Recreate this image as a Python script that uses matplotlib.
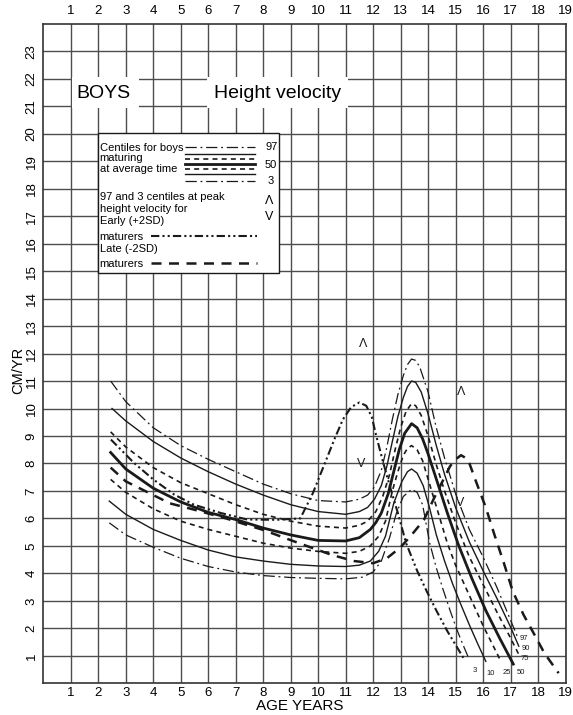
import matplotlib.pyplot as plt
from matplotlib.patches import Rectangle

plt.rcParams['font.family'] = ['Liberation Sans', 'DejaVu Sans']

age_ticks = list(range(1, 20))
vel_ticks = list(range(1, 24))

# centiles for boys maturing at average time (age in years, velocity in cm/yr)
c97_age = [2.45, 3, 4, 5, 6, 7, 8, 9, 10, 11, 11.5, 11.8, 12.05, 12.3, 12.5, 12.7, 12.9, 13.1, 13.25, 13.4,
           13.55, 13.7, 14.0, 14.3, 14.6, 15.0, 15.5, 16.0, 16.5, 17.0, 17.25]
c97_val = [11.0, 10.25, 9.3, 8.65, 8.15, 7.7, 7.25, 6.9, 6.65, 6.6, 6.7, 6.85, 7.15, 7.75, 8.6, 9.6, 10.5, 11.2, 11.6, 11.8,
           11.75, 11.5, 10.6, 9.3, 8.2, 6.9, 5.6, 4.6, 3.5, 2.3, 1.7]

c90_age = [2.5, 3, 4, 5, 6, 7, 8, 9, 10, 11, 11.5, 11.8, 12.05, 12.3, 12.5, 12.7, 12.9, 13.1, 13.25, 13.4,
           13.55, 13.75, 14.0, 14.3, 14.6, 15.0, 15.5, 16.0, 16.5, 17.0, 17.3]
c90_val = [10.0, 9.55, 8.8, 8.2, 7.7, 7.25, 6.85, 6.5, 6.25, 6.15, 6.25, 6.4, 6.7, 7.2, 7.9, 8.8, 9.7, 10.4, 10.8, 11.0,
           10.95, 10.6, 9.8, 8.65, 7.6, 6.4, 5.15, 4.1, 3.1, 2.05, 1.35]

c75_age = [2.45, 3, 4, 5, 6, 7, 8, 9, 10, 11, 11.5, 11.8, 12.1, 12.35, 12.6, 12.8, 13.0, 13.2, 13.4,
           13.55, 13.75, 14.0, 14.3, 14.6, 15.0, 15.5, 16.0, 16.5, 17.0, 17.3]
c75_val = [9.15, 8.6, 7.85, 7.3, 6.9, 6.5, 6.15, 5.9, 5.72, 5.65, 5.75, 5.9, 6.25, 6.8, 7.6, 8.5, 9.3, 9.9, 10.18,
           10.1, 9.75, 9.0, 7.95, 7.0, 5.85, 4.6, 3.6, 2.6, 1.65, 1.05]

c50_age = [2.45, 3, 4, 5, 6, 7, 8, 9, 10, 11, 11.5, 11.9, 12.1, 12.3, 12.55, 12.75, 12.95, 13.15, 13.4,
           13.6, 13.8, 14.0, 14.36, 14.7, 15.1, 15.6, 16.1, 16.6, 17.1]
c50_val = [8.4, 7.8, 7.1, 6.6, 6.22, 5.96, 5.65, 5.4, 5.2, 5.18, 5.3, 5.6, 5.85, 6.2, 6.9, 7.7, 8.5, 9.1, 9.45,
           9.3, 8.9, 8.35, 7.25, 6.2, 5.05, 3.8, 2.65, 1.65, 0.7]

c25_age = [2.45, 3, 4, 5, 6, 7, 8, 9, 10, 11, 11.5, 11.9, 12.2, 12.45, 12.7, 12.9, 13.1, 13.25, 13.4,
           13.6, 13.8, 14.1, 14.4, 14.7, 15.0, 15.5, 16.0, 16.3, 16.65]
c25_val = [7.42, 6.95, 6.35, 5.9, 5.6, 5.35, 5.1, 4.92, 4.8, 4.73, 4.8, 5.0, 5.35, 5.9, 7.0, 7.7, 8.3, 8.55, 8.65,
           8.5, 8.1, 7.1, 6.1, 5.1, 4.3, 3.2, 2.1, 1.5, 0.8]

c10_age = [2.4, 3, 4, 5, 6, 7, 8, 9, 10, 11, 11.5, 11.9, 12.2, 12.45, 12.75, 13.05, 13.25, 13.4,
           13.6, 13.82, 14.05, 14.3, 14.6, 14.9, 15.2, 15.5, 15.8, 16.1]
c10_val = [6.63, 6.15, 5.6, 5.2, 4.85, 4.6, 4.45, 4.33, 4.27, 4.25, 4.3, 4.45, 4.8, 5.35, 6.55, 7.35, 7.7, 7.8,
           7.65, 7.2, 6.4, 5.4, 4.45, 3.6, 2.85, 2.13, 1.45, 0.8]

c3_age = [2.4, 3, 4, 5, 6, 7, 8, 9, 10, 11, 11.6, 12.0, 12.3, 12.6, 12.85, 13.1, 13.4,
          13.6, 13.8, 14.06, 14.3, 14.55, 14.8, 15.03, 15.25, 15.5]
c3_val = [5.84, 5.4, 4.95, 4.55, 4.25, 4.05, 3.92, 3.85, 3.82, 3.8, 3.86, 4.05, 4.45, 5.3, 6.2, 6.8, 7.06,
          6.95, 6.5, 5.1, 4.2, 3.4, 2.65, 2.0, 1.45, 0.86]

# 50th centile for early (+2SD) and late (-2SD) maturers
early_age = [2.46, 3.3, 4.0, 4.76, 5.48, 6.45, 7.42, 8.5, 9.35, 9.8, 10.2, 10.6, 10.9, 11.2, 11.5, 11.75,
             11.95, 12.1, 12.35, 12.6, 12.9, 13.2, 13.6, 13.95, 14.3, 14.7, 15.3]
early_val = [8.87, 8.02, 7.42, 6.87, 6.5, 6.2, 5.96, 5.95, 6.0, 6.9, 7.9, 8.9, 9.6, 10.05, 10.22, 10.1,
             9.7, 9.06, 8.1, 7.2, 6.2, 5.1, 4.1, 3.35, 2.65, 1.9, 0.9]

late_age = [2.45, 3, 4, 4.6, 5.56, 6.65, 8.0, 9.3, 10.5, 11.3, 12.0, 12.5, 13.0, 13.4, 13.85, 14.2, 14.55,
            14.8, 15.0, 15.2, 15.45, 15.76, 16.1, 16.4, 16.75, 17.08, 17.47, 17.87, 18.23, 18.75]
late_val = [7.85, 7.35, 6.85, 6.55, 6.3, 6.0, 5.58, 5.1, 4.67, 4.45, 4.37, 4.55, 4.95, 5.4, 5.95, 6.7, 7.4,
            7.9, 8.15, 8.3, 8.15, 7.3, 6.4, 5.45, 4.4, 3.35, 2.5, 1.77, 1.1, 0.37]

# 97th / 3rd centile marks at peak velocity (age, velocity)
early_marks = [(11.62, 12.35, 'Λ'), (11.57, 7.97, 'V')]
late_marks = [(15.22, 10.6, 'Λ'), (15.16, 6.55, 'V')]

# end labels of the centile lines
end_labels = ['97', '90', '75', '50', '25', '10', '3']
end_label_x = [17.5, 17.57, 17.52, 17.38, 16.87, 16.26, 15.7]
end_label_y = [1.64, 1.28, 0.89, 0.41, 0.41, 0.37, 0.45]

ink = '#1a1a1a'
dashdot = (0, (9, 3, 1.5, 3))
dashed = (0, (3, 2.5))

fig = plt.figure(figsize=(5.73, 7.15), dpi=100)
ax = fig.add_axes([43.3 / 573, 1 - 683.3 / 715, (565.5 - 43.3) / 573, (683.3 - 23.8) / 715])
ax.set_xlim(0, 19)
ax.set_ylim(0, 24)
ax.set_axisbelow(True)
ax.grid(True, color='#4d4d4d', lw=1.0)
for s in ax.spines.values():
    s.set_color('#333333')
    s.set_linewidth(1.2)

ax.set_xticks(age_ticks)
ax.set_xticklabels([str(a) for a in age_ticks])
ax.tick_params(axis='x', length=0, labelsize=9.5, pad=3)
top = ax.secondary_xaxis('top')
top.set_xticks(age_ticks)
top.set_xticklabels([str(a) for a in age_ticks])
top.tick_params(length=0, labelsize=9.5, pad=5)
top.spines['top'].set_visible(False)

ax.set_yticks(vel_ticks)
ax.set_yticklabels([str(v) for v in vel_ticks], rotation=90, va='center')
ax.tick_params(axis='y', length=0, labelsize=9.5, pad=4)

fig.text(18 / 573, 1 - 370 / 715, 'CM/YR', rotation=90, ha='center', va='center', fontsize=10.5)
fig.text(300 / 573, 1 - 706 / 715, 'AGE YEARS', ha='center', va='center', fontsize=11)

# centile curves
ax.plot(c97_age, c97_val, color=ink, lw=0.9, ls=dashdot, zorder=3)
ax.plot(c90_age, c90_val, color=ink, lw=1.0, zorder=3)
ax.plot(c75_age, c75_val, color=ink, lw=1.2, ls=dashed, zorder=3)
ax.plot(c50_age, c50_val, color=ink, lw=2.0, zorder=3)
ax.plot(c25_age, c25_val, color=ink, lw=1.2, ls=dashed, zorder=3)
ax.plot(c10_age, c10_val, color=ink, lw=1.0, zorder=3)
ax.plot(c3_age, c3_val, color=ink, lw=0.9, ls=dashdot, zorder=3)
ax.plot(early_age, early_val, color=ink, lw=1.5, ls=(0, (4, 1.5, 1, 1.5, 1, 1.5)), zorder=3)
ax.plot(late_age, late_val, color=ink, lw=1.8, ls=(0, (4, 3)), zorder=3)

for x, y, m in early_marks + late_marks:
    ax.text(x, y, m, ha='center', va='center', fontsize=9, color=ink, zorder=4)

for lab, x, y in zip(end_labels, end_label_x, end_label_y):
    ax.text(x, y, lab, ha='center', va='center', fontsize=5.5, color=ink, zorder=4)

# title blocks
ax.add_patch(Rectangle((1.05, 20.95), 2.45, 1.1, facecolor='white', edgecolor='none', zorder=1.5))
ax.add_patch(Rectangle((5.97, 20.95), 5.12, 1.1, facecolor='white', edgecolor='none', zorder=1.5))
ax.text(1.22, 21.48, 'BOYS', fontsize=14, va='center', ha='left', zorder=4)
ax.text(6.21, 21.48, 'Height velocity', fontsize=14, va='center', ha='left', zorder=4)

# key box
ax.add_patch(Rectangle((1.99, 14.92), 6.57, 5.09, facecolor='white', edgecolor=ink, lw=1.0, zorder=4))
tx = 2.05
fs = 8
key_x = [5.16, 7.72]
ax.text(tx, 19.47, 'Centiles for boys', fontsize=fs, va='center', zorder=5)
ax.text(tx, 19.13, 'maturing', fontsize=fs, va='center', zorder=5)
ax.text(tx, 18.72, 'at average time', fontsize=fs, va='center', zorder=5)
key_styles = [(19.5, 0.9, dashdot), (19.25, 1.0, '-'), (19.07, 1.2, dashed), (18.9, 2.0, '-'),
              (18.71, 1.2, dashed), (18.53, 1.0, '-'), (18.28, 0.9, dashdot)]
for y, lw, ls in key_styles:
    ax.plot(key_x, [y, y], color=ink, lw=lw, ls=ls, zorder=5)
ax.text(8.08, 19.5, '97', fontsize=fs, va='center', zorder=5)
ax.text(8.05, 18.87, '50', fontsize=fs, va='center', zorder=5)
ax.text(8.15, 18.28, '3', fontsize=fs, va='center', zorder=5)
ax.text(tx, 17.68, '97 and 3 centiles at peak', fontsize=fs, va='center', zorder=5)
ax.text(8.2, 17.56, 'Λ', fontsize=9, ha='center', va='center', zorder=5)
ax.text(tx, 17.25, 'height velocity for', fontsize=fs, va='center', zorder=5)
ax.text(8.2, 16.98, 'V', fontsize=9, ha='center', va='center', zorder=5)
ax.text(tx, 16.83, 'Early (+2SD)', fontsize=fs, va='center', zorder=5)
ax.text(tx, 16.25, 'maturers', fontsize=fs, va='center', zorder=5)
ax.plot([3.92, 7.78], [16.27, 16.27], color=ink, lw=1.5, ls=(0, (4, 1.5, 1, 1.5, 1, 1.5)), zorder=5)
ax.text(tx, 15.82, 'Late (-2SD)', fontsize=fs, va='center', zorder=5)
ax.text(tx, 15.26, 'maturers', fontsize=fs, va='center', zorder=5)
ax.plot([3.92, 7.78], [15.28, 15.28], color=ink, lw=1.8, ls=(0, (4, 3)), zorder=5)

fig.savefig('out.png', dpi=100)
